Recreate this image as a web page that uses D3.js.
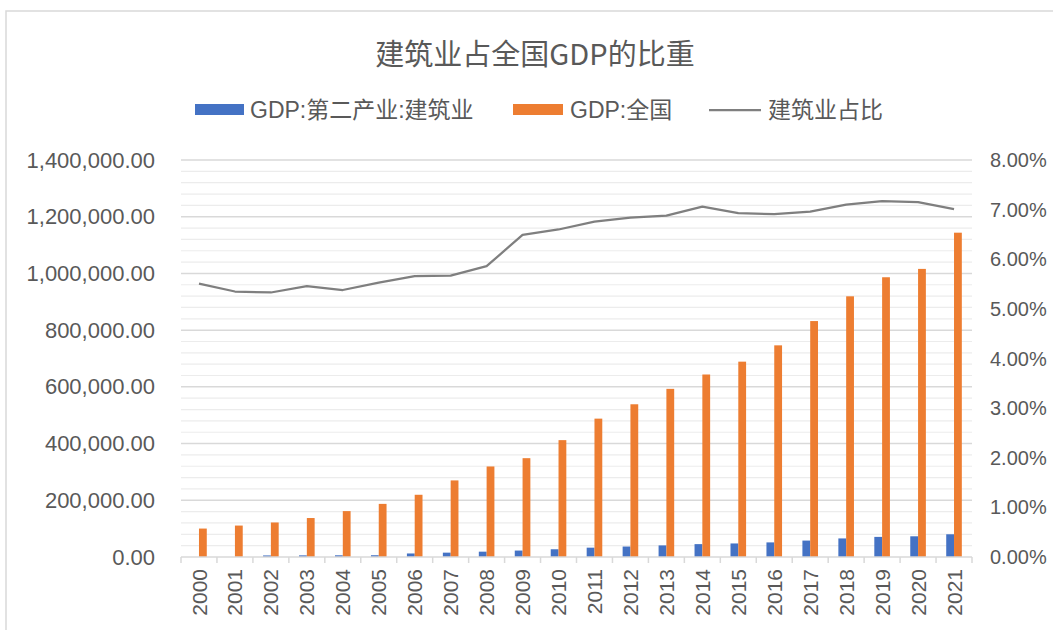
<!DOCTYPE html>
<html>
<head>
<meta charset="utf-8">
<script src="https://cdn.jsdelivr.net/npm/d3@7"></script>
<style>
  body { margin: 0; background: #fff; }
  text { font-family: "Liberation Sans", Arial, "Noto Sans CJK SC", sans-serif; fill: #595959; }
</style>
</head>
<body>
<svg width="1053" height="630"></svg>
<script>
var years = ["2000","2001","2002","2003","2004","2005","2006","2007","2008","2009","2010",
             "2011","2012","2013","2014","2015","2016","2017","2018","2019","2020","2021"];
// GDP:第二产业:建筑业 (no bar visible for 2000, 2001)
var construction = [null, null, 5500, 5800, 6000, 6200, 12450, 15348, 18807, 22682, 27259,
                    32926, 36896, 40897, 45401, 47761, 51499, 57906, 65493, 70904, 72996, 80138];
// GDP:全国
var national = [100280, 110863, 121717, 137422, 161840, 187319, 219439, 270092, 319245, 348518, 412119,
                487940, 538580, 592963, 643563, 688858, 746395, 832036, 919281, 986515, 1015986, 1143670];
// 建筑业占比 (%)
var share = [5.51, 5.35, 5.33, 5.46, 5.38, 5.53, 5.66, 5.67, 5.86, 6.49, 6.60,
             6.76, 6.84, 6.88, 7.06, 6.93, 6.91, 6.96, 7.10, 7.17, 7.15, 7.01];
var leftTicks = d3.range(0, 1400001, 200000);
var rightTicks = d3.range(0, 8.01, 1);

var svg = d3.select("svg"),
    width = +svg.attr("width"),
    height = +svg.attr("height");

var plot = {left: 181, right: 972, top: 160, bottom: 557};

// chart border
svg.append("rect")
  .attr("x", 6).attr("y", 11)
  .attr("width", width + 10).attr("height", height + 10)
  .attr("fill", "none").attr("stroke", "#d9d9d9").attr("stroke-width", 1.5);

var x = d3.scaleBand().domain(years).range([plot.left, plot.right]);
var y = d3.scaleLinear().domain([0, 1400000]).range([plot.bottom, plot.top]);
var y2 = d3.scaleLinear().domain([0, 8]).range([plot.bottom, plot.top]);

// minor gridlines
svg.append("g").selectAll("line")
  .data(d3.range(0, 1400001, 40000).filter(function(d){ return d % 200000 !== 0; }))
  .enter().append("line")
  .attr("x1", plot.left).attr("x2", plot.right)
  .attr("y1", function(d){ return y(d); }).attr("y2", function(d){ return y(d); })
  .attr("stroke", "#ececec").attr("stroke-width", 1.2);

// major gridlines
svg.append("g").selectAll("line")
  .data(leftTicks.slice(1))
  .enter().append("line")
  .attr("x1", plot.left).attr("x2", plot.right)
  .attr("y1", function(d){ return y(d); }).attr("y2", function(d){ return y(d); })
  .attr("stroke", "#d9d9d9").attr("stroke-width", 1.5);

// left axis labels
var fmtLeft = d3.format(",.2f");
svg.append("g").selectAll("text")
  .data(leftTicks)
  .enter().append("text")
  .attr("x", 155).attr("y", function(d){ return y(d); })
  .attr("text-anchor", "end").attr("dominant-baseline", "central")
  .style("font-size", "22px")
  .text(function(d){ return fmtLeft(d); });

// right axis labels
svg.append("g").selectAll("text")
  .data(rightTicks)
  .enter().append("text")
  .attr("x", 990).attr("y", function(d){ return y2(d); })
  .attr("dominant-baseline", "central")
  .style("font-size", "20px")
  .text(function(d){ return d.toFixed(2) + "%"; });

// bars
var bw = 7.8;
svg.append("g").selectAll("rect")
  .data(years.map(function(yr, i){ return {year: yr, v: construction[i]}; }).filter(function(d){ return d.v != null; }))
  .enter().append("rect")
  .attr("x", function(d){ return x(d.year) + x.bandwidth() / 2 - bw; })
  .attr("y", function(d){ return y(d.v); })
  .attr("width", bw)
  .attr("height", function(d){ return plot.bottom - y(d.v); })
  .attr("fill", "#4472c4");

svg.append("g").selectAll("rect")
  .data(years.map(function(yr, i){ return {year: yr, v: national[i]}; }))
  .enter().append("rect")
  .attr("x", function(d){ return x(d.year) + x.bandwidth() / 2; })
  .attr("y", function(d){ return y(d.v); })
  .attr("width", bw)
  .attr("height", function(d){ return plot.bottom - y(d.v); })
  .attr("fill", "#ed7d31");

// x axis line + ticks
svg.append("line")
  .attr("x1", plot.left).attr("x2", plot.right)
  .attr("y1", plot.bottom).attr("y2", plot.bottom)
  .attr("stroke", "#d9d9d9").attr("stroke-width", 1.5);
svg.append("g").selectAll("line")
  .data(years.concat(["end"]))
  .enter().append("line")
  .attr("x1", function(d){ return d === "end" ? plot.right : x(d); })
  .attr("x2", function(d){ return d === "end" ? plot.right : x(d); })
  .attr("y1", plot.bottom).attr("y2", plot.bottom + 6)
  .attr("stroke", "#d9d9d9").attr("stroke-width", 1.5);

// x labels
svg.append("g").selectAll("text")
  .data(years)
  .enter().append("text")
  .attr("transform", function(d){ return "translate(" + (x(d) + x.bandwidth() / 2) + "," + 569 + ") rotate(-90)"; })
  .attr("text-anchor", "end").attr("dy", "0.36em")
  .style("font-size", "21px")
  .text(function(d){ return d; });

// share line
var line = d3.line()
  .x(function(d, i){ return x(years[i]) + x.bandwidth() / 2; })
  .y(function(d){ return y2(d); });
svg.append("path")
  .datum(share)
  .attr("d", line)
  .attr("fill", "none")
  .attr("stroke", "#7f7f7f")
  .attr("stroke-width", 2.25)
  .attr("stroke-linejoin", "round");

// title
svg.append("text")
  .attr("x", 535).attr("y", 52)
  .attr("text-anchor", "middle").attr("dominant-baseline", "central")
  .style("font-family", "'Noto Sans CJK SC', sans-serif")
  .style("font-size", "29px")
  .text("建筑业占全国GDP的比重");

// legend
var legend = svg.append("g");
legend.append("rect").attr("x", 195).attr("y", 104).attr("width", 49).attr("height", 11).attr("fill", "#4472c4");
legend.append("text").attr("x", 250).attr("y", 110).attr("dominant-baseline", "central")
  .style("font-size", "23px").text("GDP:第二产业:建筑业");
legend.append("rect").attr("x", 513).attr("y", 104).attr("width", 50).attr("height", 11).attr("fill", "#ed7d31");
legend.append("text").attr("x", 570).attr("y", 110).attr("dominant-baseline", "central")
  .style("font-size", "23px").text("GDP:全国");
legend.append("line").attr("x1", 709).attr("x2", 761).attr("y1", 110).attr("y2", 110)
  .attr("stroke", "#7f7f7f").attr("stroke-width", 2.25);
legend.append("text").attr("x", 768).attr("y", 110).attr("dominant-baseline", "central")
  .style("font-size", "23px").text("建筑业占比");
</script>
</body>
</html>
